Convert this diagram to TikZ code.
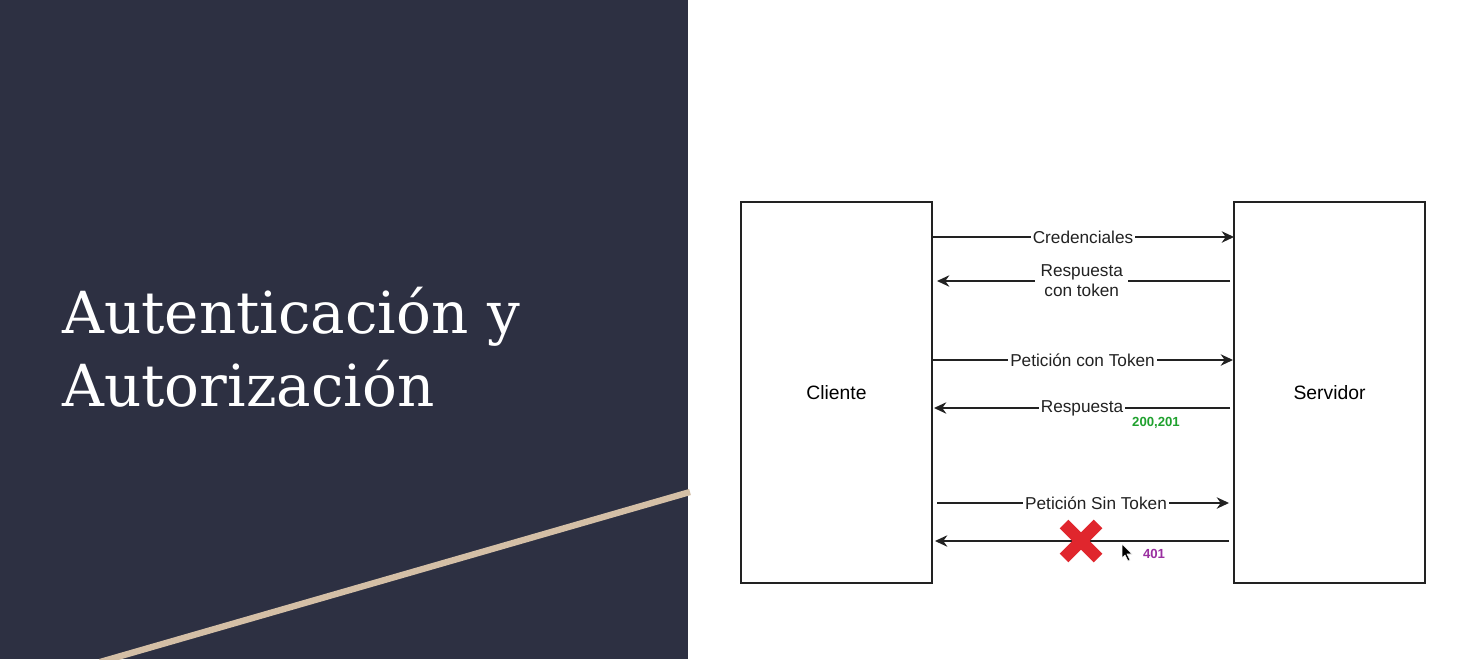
\documentclass[tikz,border=0pt]{standalone}
\usepackage{fontspec}
\setmainfont{Liberation Sans}
\newfontfamily\titlefont{DejaVu Serif}
\usetikzlibrary{arrows.meta,positioning}

\definecolor{panel}{HTML}{2D3042}
\definecolor{sand}{HTML}{D4BFA6}
\definecolor{okgreen}{HTML}{1FA12E}
\definecolor{errpurple}{HTML}{9A2FA0}
\definecolor{xred}{HTML}{E0262D}
\definecolor{ink}{HTML}{222222}

\tikzset{
  party/.style={draw=ink, line width=0.8pt, minimum width=3.82cm, minimum height=7.62cm, font=\fontsize{11}{13}\selectfont},
  msg/.style={ink, line width=0.9pt, -{Stealth[length=7pt,width=6.5pt]}},
  msglabel/.style={fill=white, inner sep=1pt, font=\fontsize{9.8}{11.5}\selectfont, align=center},
  code/.style={font=\bfseries\fontsize{7.5}{9}\selectfont}
}

\begin{document}
\begin{tikzpicture}[x=0.02cm, y=-0.02cm]
  % Page and left panel
  \fill[white] (0,0) rectangle (1463,659);
  \useasboundingbox (0,0) rectangle (1463,659);
  \fill[panel] (0,0) rectangle (688,659);
  \draw[sand, line width=3.6pt] (100,662) -- (690,492);

  % Title
  \node[anchor=base west, white, align=left, inner sep=0pt,
        font=\titlefont\fontsize{33}{41.5}\selectfont] (title) at (62,406)
    {Autenticación y\\Autorización};

  % Client and server
  \node[party] (cliente) at (836.5,392.5) {Cliente};
  \node[party] (servidor) at (1329.5,392.5) {Servidor};

  % Arrow end points
  \coordinate (c1) at (932,237);  \coordinate (s1) at (1234,237);
  \coordinate (c2) at (937,281);  \coordinate (s2) at (1230,281);
  \coordinate (c3) at (932,360);  \coordinate (s3) at (1233,360);
  \coordinate (c4) at (934,408);  \coordinate (s4) at (1230,408);
  \coordinate (c5) at (937,503);  \coordinate (s5) at (1229,503);
  \coordinate (c6) at (935,541);  \coordinate (s6) at (1229,541);

  % Messages
  \draw[msg] (c1) -- node[msglabel] (cred) {Credenciales} (s1);
  \draw[msg] (s2) -- node[msglabel, inner xsep=3pt, xshift=-1pt] (resptok) {Respuesta\\con token} (c2);
  \draw[msg] (c3) -- node[msglabel] (petcon) {Petición con Token} (s3);
  \draw[msg] (s4) -- node[msglabel] (resp) {Respuesta} (c4);
  \draw[msg] (c5) -- node[msglabel, xshift=7.4pt] (petsin) {Petición Sin Token} (s5);
  \draw[msg] (s6) -- (c6);

  % Status codes
  \node[code, okgreen] (ok) at (1156,423) {200,201};
  \node[code, errpurple] (err) at (1154,554) {401};

  % Red cross
  \draw[xred, line width=7pt] (1064,524) -- (1098,558);
  \draw[xred, line width=7pt] (1098,524) -- (1064,558);

  % Mouse pointer
  \filldraw[black, draw=white, line width=0.3pt]
    (1122,544) -- (1122,558) -- (1125,555) -- (1128,561) -- (1130,560)
    -- (1127,554) -- (1132,554) -- cycle;
\end{tikzpicture}
\end{document}
